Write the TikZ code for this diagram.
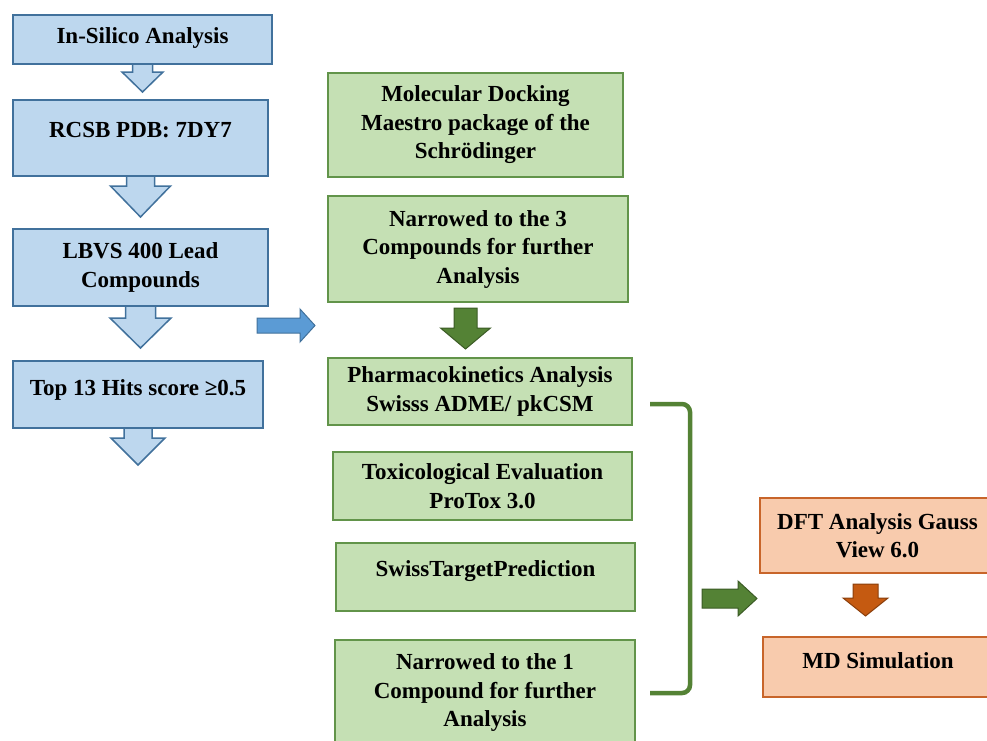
\documentclass[tikz,border=0pt]{standalone}
\usepackage{fontspec}
\usepackage{xcolor}
\usepackage{tikz}
\usetikzlibrary{calc}
\setmainfont{Liberation Serif}

\definecolor{boxblue}{HTML}{BDD7EE}
\definecolor{lineblue}{HTML}{41719C}
\definecolor{arrowblue}{HTML}{5B9BD5}
\definecolor{boxgreen}{HTML}{C5E0B4}
\definecolor{linegreen}{HTML}{62944A}
\definecolor{darkgreen}{HTML}{548235}
\definecolor{boxorange}{HTML}{F8CBAD}
\definecolor{lineorange}{HTML}{C8652A}
\definecolor{arroworange}{HTML}{C55A11}

\begin{document}
\begin{tikzpicture}[x=1pt, y=-1pt,
        box/.style={draw, line width=1.5pt, inner sep=0pt, outer sep=0pt, align=center,
            font=\fontsize{23}{28.5}\selectfont\bfseries},
        oneline/.style={text height=16pt, text depth=#1},
        bluebox/.style={box, fill=boxblue, draw=lineblue},
        greenbox/.style={box, fill=boxgreen, draw=linegreen},
        orangebox/.style={box, fill=boxorange, draw=lineorange},
        bluearrow/.style={fill=boxblue, draw=lineblue, line width=1.5pt, line join=miter},
        blueshift/.style={fill=arrowblue, draw=lineblue, line width=1pt},
        greenarrow/.style={fill=darkgreen, draw=darkgreen!70!black, line width=1pt},
        orangearrow/.style={fill=arroworange, draw=arroworange!70!black, line width=1pt},
        bracket/.style={draw=darkgreen, line width=4.5pt, rounded corners=8pt}]
        \useasboundingbox (0,0) rectangle (987,740);

        % left column
        \node[bluebox, oneline=8.2pt, minimum width=259pt, minimum height=49pt] (insilico) at (142.5,39.5) {In-Silico Analysis};
        \node[bluebox, oneline=16.8pt, minimum width=255pt, minimum height=76pt] (rcsb) at (140.5,138) {RCSB PDB: 7DY7};
        \node[bluebox, minimum width=255pt, minimum height=77pt] (lbvs) at (140.5,267.5) {LBVS 400 Lead\\Compounds};
        \node[bluebox, oneline=14.8pt, minimum width=250pt, minimum height=67pt] (top13) at (138,394.5) {Top 13 Hits score ≥0.5};

        \draw[bluearrow] (insilico.south) ++(-10,0) -- ++(20,0) -- ++(0,8) -- ++(10.5,0) -- ++(-20.5,20) -- ++(-20.5,-20) -- ++(10.5,0) -- cycle;
        \draw[bluearrow] (rcsb.south) ++(-14,0) -- ++(28,0) -- ++(0,10) -- ++(16,0) -- ++(-30,31) -- ++(-30,-31) -- ++(16,0) -- cycle;
        \draw[bluearrow] (lbvs.south) ++(-15,0) -- ++(30,0) -- ++(0,12) -- ++(15.5,0) -- ++(-30.5,30) -- ++(-30.5,-30) -- ++(15.5,0) -- cycle;
        \draw[bluearrow] (top13.south) ++(-14,0) -- ++(28,0) -- ++(0,10) -- ++(13,0) -- ++(-27,27) -- ++(-27,-27) -- ++(13,0) -- cycle;

        \coordinate (hop) at (257,325.5);
        \draw[blueshift] (hop) ++(0,-7.5) -- ++(43,0) -- ++(0,-9) -- ++(15,16.5) -- ++(-15,16.5) -- ++(0,-9) -- ++(-43,0) -- cycle;

        % middle column
        \node[greenbox, minimum width=295pt, minimum height=104pt] (docking) at (475.5,125) {Molecular Docking\\Maestro package of the\\Schrödinger};
        \node[greenbox, minimum width=300pt, minimum height=106pt] (narrow3) at (478,249) {Narrowed to the 3\\Compounds for further\\Analysis};
        \node[greenbox, minimum width=304pt, minimum height=67pt] (pharma) at (480,391.5) {Pharmacokinetics Analysis\\Swisss ADME/ pkCSM};
        \node[greenbox, minimum width=299pt, minimum height=68pt] (tox) at (482.5,486) {Toxicological Evaluation\\ProTox 3.0};
        \node[greenbox, oneline=16.8pt, minimum width=299pt, minimum height=68pt] (swiss) at (485.5,577) {SwissTargetPrediction};
        \node[greenbox, minimum width=300pt, minimum height=105pt] (narrow1) at (485,692.5) {Narrowed to the 1\\Compound for further\\Analysis};

        \draw[greenarrow] ($(narrow3.south)+(-12.5,6)$) ++(-11.5,0) -- ++(23,0) -- ++(0,20) -- ++(13.5,0) -- ++(-25,21) -- ++(-25,-21) -- ++(13.5,0) -- cycle;

        \draw[bracket] (650,404) -- (690,404) -- (690,693) -- (650,693);

        \coordinate (jump) at (702,598.5);
        \draw[greenarrow] (jump) ++(0,-9.5) -- ++(36,0) -- ++(0,-8) -- ++(19,17.5) -- ++(-19,17.5) -- ++(0,-8) -- ++(-36,0) -- cycle;

        % right column
        \node[orangebox, minimum width=235pt, minimum height=75pt] (dft) at (877.5,535.5) {DFT Analysis Gauss\\View 6.0};
        \node[orangebox, oneline=12.8pt, minimum width=230pt, minimum height=60pt] (md) at (878,667) {MD Simulation};

        \draw[orangearrow] ($(dft.south)+(-12,11)$) ++(-12.5,0) -- ++(25,0) -- ++(0,14) -- ++(10,0) -- ++(-22.5,18) -- ++(-22.5,-18) -- ++(10,0) -- cycle;
    \end{tikzpicture}
\end{document}
